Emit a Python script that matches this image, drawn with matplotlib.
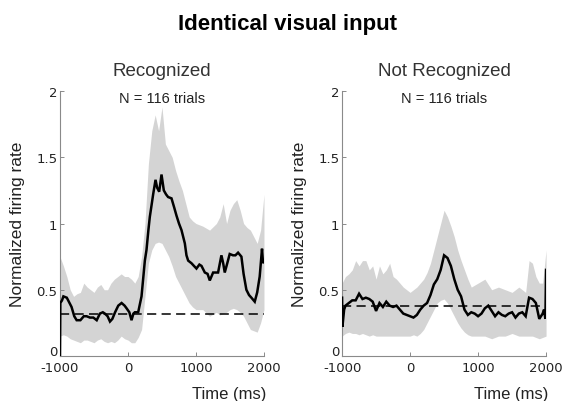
import matplotlib
matplotlib.use("Agg")
import matplotlib.pyplot as plt
import matplotlib.transforms as mtransforms

# ---------------- data ----------------
title = "Identical visual input"
panel_titles = ["Recognized", "Not Recognized"]
n_label = "N = 116 trials"

# Recognized: mean firing rate
rec_t = [-1000, -995, -970, -950, -900, -860, -830, -790, -755, -700, -650, -608, -560, -510,
         -460, -413, -370, -340, -300, -265, -230, -190, -143, -94, -50, -21, 20, 52, 80, 101,
         150, 199, 230, 248, 272, 300, 321, 350, 370, 405, 429, 459, 493, 527, 560, 590, 640,
         680, 713, 750, 787, 836, 860, 885, 934, 970, 1007, 1050, 1081, 1130, 1170, 1203, 1252,
         1290, 1325, 1374, 1400, 1423, 1460, 1496, 1545, 1580, 1619, 1668, 1700, 1741, 1780,
         1815, 1864, 1900, 1937, 1971, 1986, 2000]
rec_m = [0.0, 0.40, 0.42, 0.45, 0.44, 0.40, 0.37, 0.30, 0.27, 0.27, 0.30, 0.30, 0.29, 0.29,
         0.27, 0.32, 0.33, 0.32, 0.30, 0.26, 0.28, 0.33, 0.38, 0.40, 0.38, 0.36, 0.33, 0.27, 0.32, 0.33,
         0.33, 0.45, 0.62, 0.72, 0.80, 0.95, 1.05, 1.15, 1.22, 1.33, 1.27, 1.24, 1.37, 1.25, 1.22, 1.20, 1.19,
         1.12, 1.06, 1.00, 0.95, 0.85, 0.76, 0.72, 0.70, 0.68, 0.66, 0.69, 0.68, 0.63, 0.62, 0.57, 0.63,
         0.63, 0.63, 0.76, 0.70, 0.63, 0.70, 0.77, 0.76, 0.76, 0.78, 0.75, 0.62, 0.50, 0.46,
         0.44, 0.41, 0.48, 0.60, 0.81, 0.70, 0.72]
rec_band_t = [-1000, -950, -900, -850, -800, -750, -700, -650, -600, -550, -500, -450, -400, -350,
              -300, -250, -200, -150, -100, -50, 0, 50, 100, 150, 200, 250, 300, 350, 400, 450,
              500, 550, 600, 650, 700, 750, 800, 850, 900, 950, 1000, 1100, 1200, 1300, 1350,
              1400, 1450, 1500, 1550, 1600, 1650, 1700, 1750, 1800, 1850, 1900, 1950, 2000]
rec_up = [0.75, 0.68, 0.60, 0.50, 0.45, 0.47, 0.48, 0.55, 0.52, 0.50, 0.48, 0.52, 0.54, 0.50,
          0.50, 0.55, 0.58, 0.60, 0.62, 0.60, 0.60, 0.58, 0.55, 0.60, 0.75, 1.00, 1.45, 1.70, 1.82, 1.70,
          1.88, 1.60, 1.55, 1.50, 1.40, 1.32, 1.25, 1.15, 1.05, 1.02, 1.00, 0.98, 0.95, 1.00, 1.05,
          1.15, 1.00, 1.10, 1.15, 1.18, 1.10, 1.00, 0.97, 0.95, 0.90, 0.85, 0.95, 1.22]
rec_lo = [0.15, 0.16, 0.15, 0.13, 0.12, 0.11, 0.10, 0.12, 0.12, 0.11, 0.10, 0.12, 0.13, 0.11,
          0.10, 0.11, 0.10, 0.12, 0.15, 0.13, 0.12, 0.10, 0.10, 0.14, 0.20, 0.45, 0.70, 0.80, 0.85, 0.86,
          0.85, 0.80, 0.75, 0.68, 0.60, 0.55, 0.50, 0.45, 0.40, 0.37, 0.35, 0.35, 0.30, 0.33, 0.31,
          0.32, 0.33, 0.35, 0.36, 0.35, 0.33, 0.30, 0.25, 0.20, 0.19, 0.18, 0.25, 0.35]
rec_baseline = 0.32

# Not recognized: mean firing rate
nr_t = [-1000, -995, -970, -950, -900, -850, -800, -750, -700, -650, -600, -550, -500, -450,
        -400, -350, -300, -250, -200, -150, -100, -50, 0, 50, 100, 150, 200, 250, 300, 350,
        400, 450, 500, 550, 600, 650, 700, 750, 800, 850, 900, 950, 1000, 1050, 1100, 1150,
        1200, 1250, 1300, 1350, 1400, 1450, 1500, 1550, 1600, 1650, 1700, 1750, 1800, 1850,
        1900, 1950, 1970, 1990, 2000]
nr_m = [0.44, 0.22, 0.35, 0.38, 0.40, 0.42, 0.42, 0.47, 0.43, 0.44, 0.43, 0.41, 0.34, 0.40,
        0.37, 0.41, 0.38, 0.37, 0.38, 0.35, 0.32, 0.31, 0.30, 0.29, 0.31, 0.35, 0.38, 0.40, 0.46, 0.54,
        0.58, 0.65, 0.76, 0.74, 0.68, 0.58, 0.50, 0.45, 0.35, 0.31, 0.33, 0.32, 0.30, 0.32, 0.36, 0.38,
        0.34, 0.30, 0.33, 0.31, 0.30, 0.32, 0.33, 0.29, 0.32, 0.33, 0.30, 0.44, 0.43, 0.40,
        0.28, 0.32, 0.35, 0.28, 0.65]
nr_band_t = [-1000, -950, -900, -850, -800, -750, -700, -650, -600, -550, -500, -450, -400, -350,
             -300, -250, -200, -150, -100, -50, 0, 50, 100, 150, 200, 250, 300, 350, 400, 450,
             500, 550, 600, 650, 700, 750, 800, 850, 900, 1000, 1100, 1200, 1300, 1400, 1500,
             1600, 1700, 1750, 1800, 1850, 1900, 1950, 2000]
nr_up = [0.55, 0.60, 0.62, 0.65, 0.72, 0.68, 0.72, 0.72, 0.65, 0.68, 0.58, 0.68, 0.62, 0.65,
         0.70, 0.60, 0.58, 0.55, 0.52, 0.50, 0.48, 0.50, 0.52, 0.55, 0.58, 0.63, 0.70, 0.80, 0.90, 1.00,
         1.10, 1.05, 0.98, 0.90, 0.80, 0.72, 0.65, 0.58, 0.52, 0.55, 0.58, 0.50, 0.52, 0.50, 0.48,
         0.52, 0.48, 0.72, 0.70, 0.60, 0.55, 0.55, 0.80]
nr_lo = [0.15, 0.17, 0.18, 0.17, 0.17, 0.16, 0.17, 0.16, 0.15, 0.16, 0.15, 0.15, 0.15, 0.15,
         0.15, 0.15, 0.15, 0.15, 0.15, 0.15, 0.15, 0.16, 0.15, 0.17, 0.20, 0.25, 0.30, 0.35, 0.40, 0.42,
         0.43, 0.40, 0.35, 0.30, 0.25, 0.21, 0.18, 0.16, 0.15, 0.15, 0.15, 0.13, 0.15, 0.15, 0.17,
         0.15, 0.15, 0.15, 0.15, 0.14, 0.13, 0.14, 0.15]
nr_baseline = 0.38

x_ticks = [-1000, 0, 1000, 2000]
x_tick_labels = ["-1000", "0", "1000", "2000"]
y_ticks = [0, 0.5, 1, 1.5, 2]
y_tick_labels = ["0", "0.5", "1", "1.5", "2"]
xlabel = "Time (ms)"
ylabel = "Normalized firing rate"

# ---------------- plot ----------------
plt.rcParams['font.family'] = ['Liberation Sans', 'DejaVu Sans']
plt.rcParams['axes.unicode_minus'] = False
fig = plt.figure(figsize=(5.73, 4.02), dpi=100)
fig.patch.set_facecolor("white")

positions = [[0.1047, 0.112, 0.356, 0.659], [0.597, 0.112, 0.356, 0.659]]
datasets = [
    (rec_t, rec_m, rec_band_t, rec_up, rec_lo, rec_baseline),
    (nr_t, nr_m, nr_band_t, nr_up, nr_lo, nr_baseline),
]
spine_col = "#8a8a8a"
txt_col = "#222222"

for pos, ptitle, (t, m, bt, up, lo, base) in zip(positions, panel_titles, datasets):
    ax = fig.add_axes(pos)
    ax.fill_between(bt, lo, up, color="#d4d4d4", linewidth=0, zorder=1)
    ax.plot([-1000, 2000], [base, base], color="black", linestyle=(0, (6, 3.5)),
            linewidth=1.1, zorder=2)
    ax.plot(t, m, color="black", linewidth=1.8, zorder=3, solid_joinstyle="miter")
    ax.set_xlim(-1000, 2000)
    ax.set_ylim(0, 2)
    ax.set_xticks(x_ticks)
    ax.set_xticklabels(x_tick_labels)
    ax.set_yticks(y_ticks)
    ax.set_yticklabels(y_tick_labels)
    for s in ["top", "right"]:
        ax.spines[s].set_visible(False)
    for s in ["left", "bottom"]:
        ax.spines[s].set_color(spine_col)
        ax.spines[s].set_linewidth(0.8)
    ax.tick_params(direction="in", length=3, width=0.7, color=spine_col,
                   labelsize=9.5, labelcolor=txt_col)
    ax.tick_params(axis="x", pad=3.5)
    ax.tick_params(axis="y", pad=2)
    for lab in ax.get_xticklabels():
        lab.set_family(["DejaVu Sans"])
    for lab in ax.get_yticklabels():
        lab.set_family(["DejaVu Sans"])
    # raise the "0" y tick label slightly, as in the reference
    ylabs = ax.get_yticklabels()
    ylabs[0].set_transform(ylabs[0].get_transform() +
                           mtransforms.ScaledTranslation(0, 4 / 72, fig.dpi_scale_trans))
    ax.set_ylabel(ylabel, fontsize=12.5, color=txt_col, labelpad=8)
    ax.text(0.5, 1.0, n_label, transform=ax.transAxes, ha="center", va="top",
            fontsize=10.5, color=txt_col)
    ax.text(0.5, 1.079, ptitle, transform=ax.transAxes, ha="center", va="center",
            fontsize=13.5, color="#333333")
    ax.text(1.01, -0.115, xlabel, transform=ax.transAxes, ha="right", va="top",
            fontsize=12, color=txt_col)

fig.text(0.501, 0.94, title, ha="center", va="center", fontsize=16,
         fontweight="bold", color="black")

fig.savefig("out.png", dpi=100, facecolor="white")
